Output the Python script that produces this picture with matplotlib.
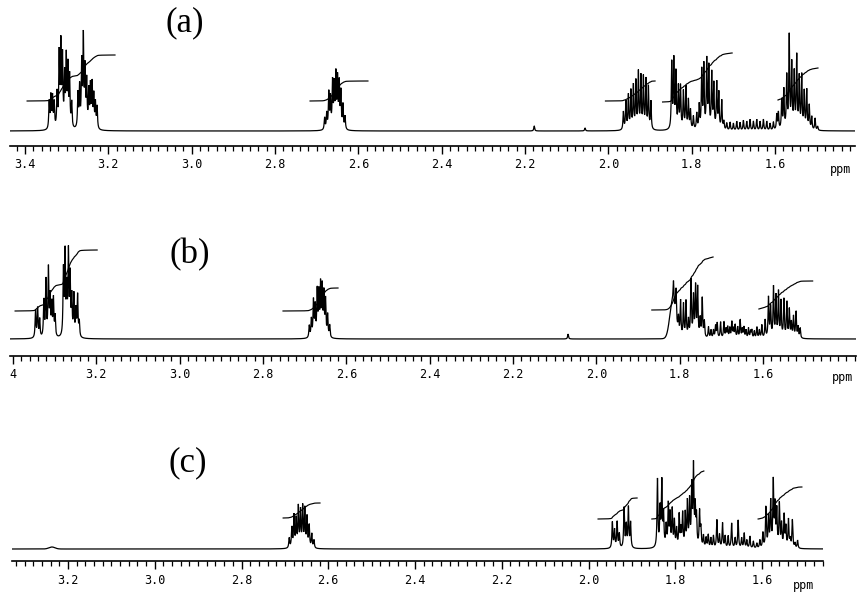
import numpy as np
import matplotlib
matplotlib.use("Agg")
import matplotlib.pyplot as plt
from matplotlib.ticker import MultipleLocator, FixedLocator, FixedFormatter

# ---------------- data (ppm positions, line heights) ----------------
# panel (a)
a_peak_ppm = [3.342, 3.338, 3.334, 3.330, 3.323, 3.318, 3.314, 3.310, 3.305, 3.301, 3.297, 3.293, 3.288,
              3.273, 3.269, 3.264, 3.260, 3.256, 3.252, 3.247, 3.243, 3.239, 3.235, 3.231, 3.227,
              2.681, 2.676, 2.671, 2.667, 2.662, 2.658, 2.654, 2.650, 2.646, 2.642, 2.637, 2.632,
              2.178, 2.056,
              1.964, 1.958, 1.952, 1.946, 1.940, 1.934, 1.928, 1.922, 1.916, 1.910, 1.904, 1.898,
              1.848, 1.843, 1.838, 1.832, 1.827, 1.820, 1.814, 1.808, 1.803, 1.796, 1.788, 1.782,
              1.776, 1.771, 1.764, 1.759, 1.752, 1.747, 1.740, 1.735, 1.728, 1.723,
              1.716, 1.708, 1.700, 1.692, 1.684, 1.676, 1.668, 1.660, 1.652, 1.644, 1.636, 1.628,
              1.620, 1.612, 1.604, 1.596, 1.592,
              1.584, 1.579, 1.572, 1.566, 1.560, 1.554, 1.548, 1.542, 1.536, 1.530, 1.524, 1.518,
              1.512, 1.504, 1.498]
a_peak_h = [27, 32, 31, 25, 34, 72, 81, 68, 50, 68, 59, 50, 25,
            34, 40, 63, 88, 56, 45, 36, 41, 43, 32, 25, 22,
            12, 16, 36, 30, 46, 42, 52, 48, 44, 36, 24, 13,
            5, 3,
            18, 28, 34, 38, 43, 47, 56, 52, 51, 49, 42, 28,
            66, 68, 55, 41, 42, 37, 42, 29, 19, 13, 16, 24,
            58, 63, 68, 61, 55, 44, 46, 36, 29, 8,
            7, 8, 7, 9, 8, 10, 9, 11, 9, 11, 9, 11,
            9, 7, 8, 15, 17,
            29, 39, 52, 92, 64, 55, 72, 51, 53, 37, 39, 24,
            13, 12, 4]
a_int_start = [3.395, 2.716, 2.007, 1.870, 1.593]
a_int_end = [3.184, 2.577, 1.888, 1.703, 1.497]
a_int_y0 = [30, 30, 30, 29, 31]
a_int_rise = [46, 20, 20, 49, 32]

# panel (b)
b_peak_ppm = [3.346, 3.341, 3.336, 3.326, 3.321, 3.315, 3.311, 3.307, 3.303, 3.299,
              3.279, 3.275, 3.271, 3.267, 3.263, 3.259, 3.254, 3.249, 3.245, 3.241,
              2.689, 2.684, 2.679, 2.675, 2.670, 2.666, 2.662, 2.658, 2.654, 2.650, 2.645, 2.640,
              2.068,
              1.815, 1.809, 1.803, 1.798, 1.791, 1.785, 1.779, 1.773, 1.767, 1.762, 1.757,
              1.751, 1.746, 1.741,
              1.731, 1.725, 1.719, 1.714, 1.710, 1.702, 1.694, 1.689, 1.685, 1.680, 1.675,
              1.671, 1.667, 1.661, 1.655, 1.650, 1.646, 1.641, 1.635, 1.630, 1.627, 1.621,
              1.615, 1.609, 1.603,
              1.595, 1.587, 1.582, 1.575, 1.569, 1.563, 1.557, 1.550, 1.543, 1.537, 1.532,
              1.527, 1.521, 1.516, 1.511]
b_peak_h = [27, 29, 18, 36, 56, 67, 38, 31, 37, 20,
            65, 81, 45, 81, 58, 38, 41, 26, 41, 15,
            12, 18, 36, 30, 45, 42, 50, 48, 42, 36, 22, 12,
            5,
            22, 30, 16, 36, 33, 36, 17, 57, 40, 50, 49,
            18, 39, 16,
            11, 8, 8, 12, 15, 16, 16, 9, 11, 10, 16,
            9, 13, 11, 18, 9, 11, 8, 10, 7, 8, 7,
            11, 8, 13,
            18, 40, 30, 50, 41, 45, 36, 38, 35, 28, 15,
            21, 26, 11, 10]
b_broad_ppm = [1.817]
b_broad_h = [36]
b_int_start = [3.395, 2.752, 1.867, 1.610]
b_int_end = [3.198, 2.620, 1.720, 1.481]
b_int_y0 = [28, 28, 29, 30]
b_int_rise = [61, 23, 53, 28]

# panel (c)
c_peak_ppm = [2.690, 2.684, 2.679, 2.674, 2.669, 2.664, 2.659, 2.654, 2.649, 2.644, 2.638, 2.633,
              1.945, 1.940, 1.934, 1.929, 1.918, 1.913, 1.908, 1.903,
              1.841, 1.835, 1.831, 1.827, 1.821, 1.816, 1.812, 1.807, 1.802, 1.797, 1.791,
              1.787, 1.783, 1.777, 1.772, 1.767, 1.762, 1.758, 1.754, 1.751, 1.744, 1.741,
              1.735, 1.729, 1.724, 1.718, 1.712, 1.704, 1.698, 1.691, 1.685, 1.678, 1.670,
              1.662, 1.655, 1.647, 1.641, 1.635, 1.628, 1.620, 1.612, 1.605, 1.598,
              1.591, 1.585, 1.580, 1.574, 1.570, 1.566, 1.560, 1.555, 1.549, 1.545, 1.539,
              1.535, 1.530, 1.524, 1.518]
c_peak_h = [10, 20, 32, 28, 40, 36, 40, 38, 30, 22, 14, 8,
            26, 18, 26, 14, 40, 22, 40, 25,
            68, 37, 64, 32, 21, 42, 32, 37, 26, 18, 32,
            17, 33, 33, 44, 45, 58, 78, 37, 29, 35, 18,
            12, 10, 13, 10, 12, 28, 13, 25, 12, 12, 25,
            10, 28, 10, 15, 8, 12, 7, 5, 8, 15,
            40, 30, 45, 65, 40, 36, 43, 23, 32, 20, 28,
            8, 28, 5, 8]
c_broad_ppm = [3.237]
c_broad_h = [2]
c_int_start = [2.704, 1.978, 1.854, 1.609]
c_int_end = [2.619, 1.888, 1.734, 1.508]
c_int_y0 = [31, 30, 30, 30]
c_int_rise = [15, 21, 48, 32]

# axis tick values / labels
a_ticks = [3.4, 3.2, 3.0, 2.8, 2.6, 2.4, 2.2, 2.0, 1.8, 1.6]
a_labels = ["3.4", "3.2", "3.0", "2.8", "2.6", "2.4", "2.2", "2.0", "1.8", "1.6"]
b_ticks = [3.4, 3.2, 3.0, 2.8, 2.6, 2.4, 2.2, 2.0, 1.8, 1.6]
b_labels = ["4", "3.2", "3.0", "2.8", "2.6", "2.4", "2.2", "2.0", "1.8", "1.6"]
c_ticks = [3.2, 3.0, 2.8, 2.6, 2.4, 2.2, 2.0, 1.8, 1.6]
c_labels = ["3.2", "3.0", "2.8", "2.6", "2.4", "2.2", "2.0", "1.8", "1.6"]
panel_titles = ["(a)", "(b)", "(c)"]

# ---------------- drawing ----------------
W, H = 858, 594
fig = plt.figure(figsize=(W / 100, H / 100), dpi=100)
fig.patch.set_facecolor("white")

HWHM = 0.0012
BROAD_SIG = 0.007


def spectrum(x, ppm, h, bppm=(), bh=(), bsig=BROAD_SIG):
    y = np.zeros_like(x)
    for p, a in zip(ppm, h):
        y += a / (1.0 + ((x - p) / HWHM) ** 2)
    for p, a in zip(bppm, bh):
        y += a * np.exp(-0.5 * ((x - p) / bsig) ** 2)
    return y


def panel(px0, px1, ref_px, ref_ppm, ppx, spine_y, top_y, base_off,
          ppm, h, bppm, bh, istart, iend, iy0, irise, ticks, labels,
          title, title_xy, ppm_xy, bsig=BROAD_SIG):
    left_ppm = ref_ppm + (ref_px - px0) / ppx
    right_ppm = ref_ppm - (px1 - ref_px) / ppx
    ax = fig.add_axes([px0 / W, 1 - spine_y / H, (px1 - px0) / W, (spine_y - top_y) / H])
    ax.patch.set_visible(False)
    ax.set_xlim(left_ppm, right_ppm)
    ax.set_ylim(-base_off, spine_y - top_y - base_off)
    x = np.linspace(left_ppm, right_ppm, 24000)
    y = spectrum(x, ppm, h, bppm, bh, bsig)
    ax.plot(x, y, color="black", lw=0.9, solid_joinstyle="miter")
    for s, e, y0, r in zip(istart, iend, iy0, irise):
        m = (x <= s) & (x >= e)
        c = np.cumsum(y[m])
        c = c / c[-1]
        ax.plot(x[m], y0 + r * c, color="black", lw=0.85)
    for sp in ["top", "left", "right"]:
        ax.spines[sp].set_visible(False)
    ax.spines["bottom"].set_linewidth(1.2)
    ax.set_yticks([])
    ax.xaxis.set_major_locator(FixedLocator(ticks))
    ax.xaxis.set_major_formatter(FixedFormatter(labels))
    ax.xaxis.set_minor_locator(MultipleLocator(0.02))
    ax.tick_params(axis="x", which="major", direction="out", length=6, width=1.0, pad=3,
                   labelsize=8.5)
    ax.tick_params(axis="x", which="minor", direction="out", length=3.5, width=0.9)
    for t in ax.get_xticklabels():
        t.set_family("DejaVu Sans Mono")
    fig.text(title_xy[0] / W, 1 - title_xy[1] / H, title, family="Liberation Serif",
             fontsize=25, ha="center", va="center")
    fig.text(ppm_xy[0] / W, 1 - ppm_xy[1] / H, "ppm", family="DejaVu Sans Mono",
             fontsize=8.5, ha="center", va="center")
    return ax


panel(10, 855, 25, 3.4, 416.7, 146, 0, 15,
      a_peak_ppm, a_peak_h, [], [], a_int_start, a_int_end, a_int_y0, a_int_rise,
      a_ticks, a_labels, panel_titles[0], (185, 23), (841, 169))
panel(10, 856, 13, 3.4, 416.7, 356, 195, 17,
      b_peak_ppm, b_peak_h, b_broad_ppm, b_broad_h, b_int_start, b_int_end, b_int_y0, b_int_rise,
      b_ticks, b_labels, panel_titles[1], (190, 255), (843, 378))
panel(12, 823, 68, 3.2, 433.75, 561, 400, 12,
      c_peak_ppm, c_peak_h, c_broad_ppm, c_broad_h, c_int_start, c_int_end, c_int_y0, c_int_rise,
      c_ticks, c_labels, panel_titles[2], (188, 463), (804, 585))

fig.savefig("out.png", dpi=100)
